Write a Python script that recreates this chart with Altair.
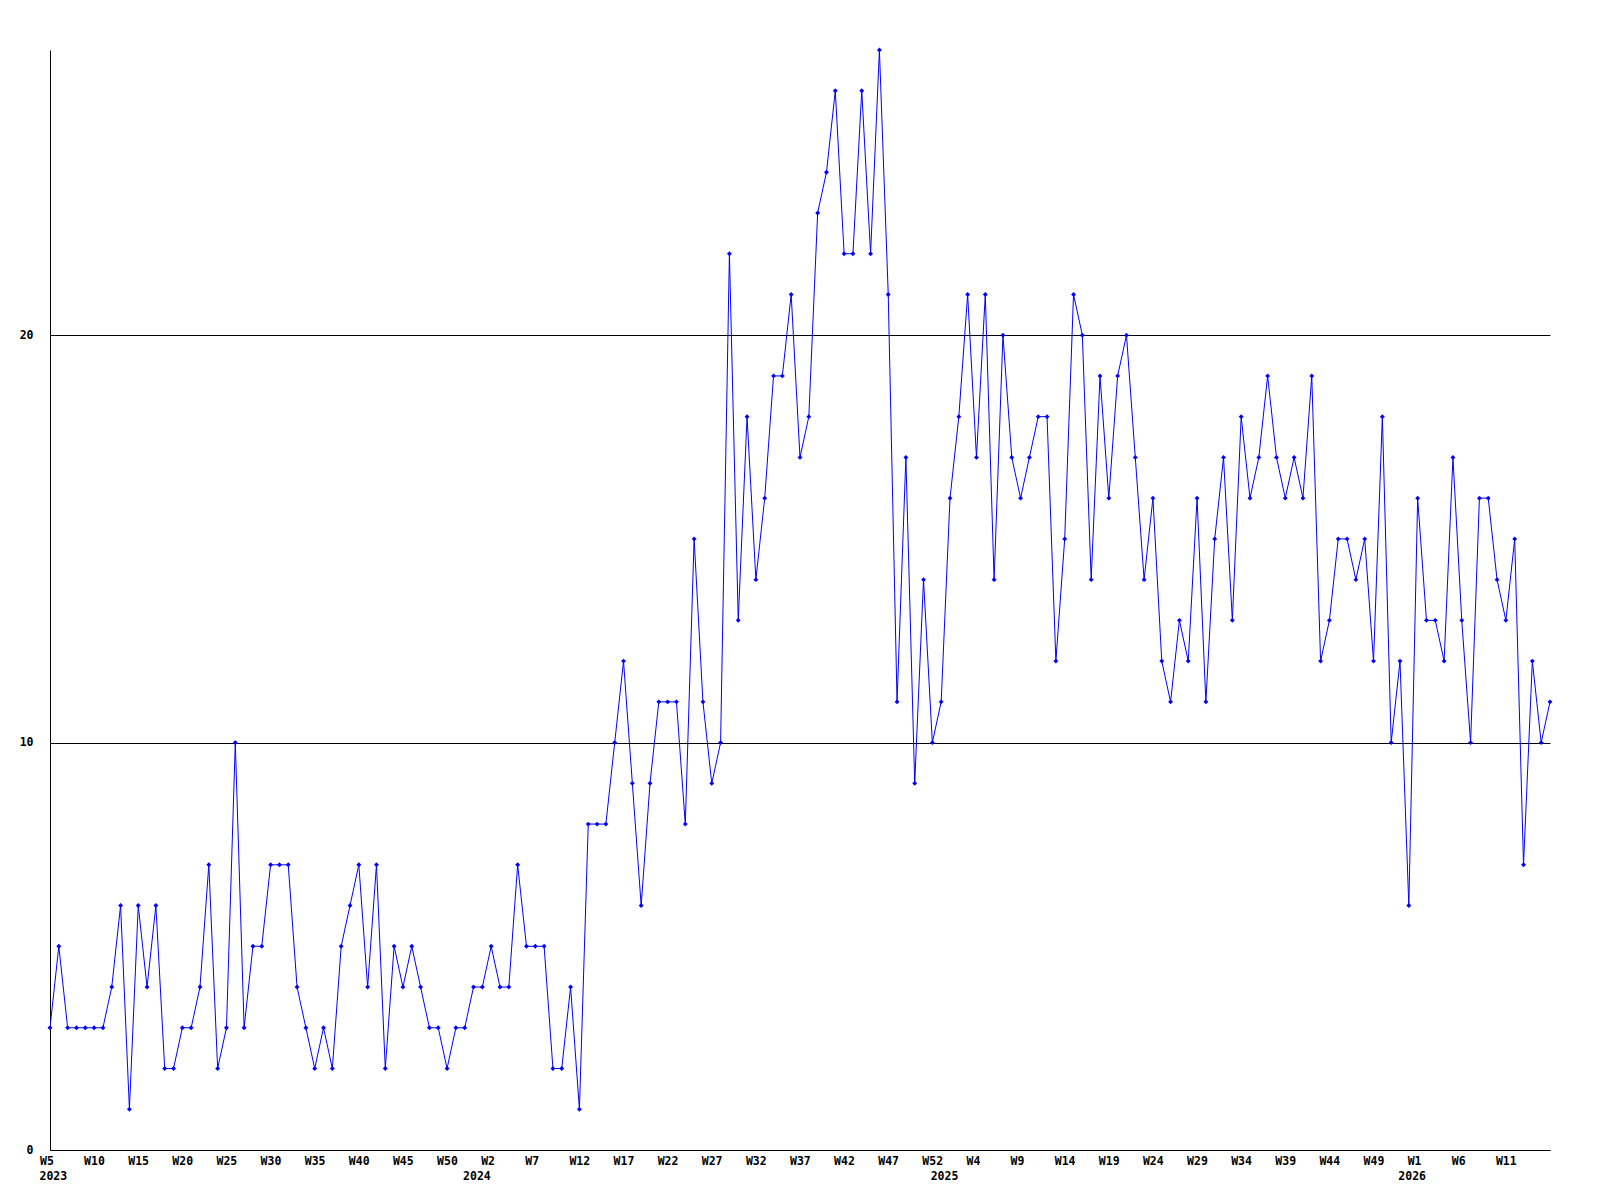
import altair as alt
import pandas as pd

# Weekly counts, starting 2023 W5 (one value per week)
counts = [
    3, 5, 3, 3, 3, 3, 3, 4, 6, 1, 6, 4, 6, 2, 2, 3, 3, 4, 7, 2,
    3, 10, 3, 5, 5, 7, 7, 7, 4, 3, 2, 3, 2, 5, 6, 7, 4, 7, 2, 5,
    4, 5, 4, 3, 3, 2, 3, 3, 4, 4, 5, 4, 4, 7, 5, 5, 5, 2, 2, 4,
    1, 8, 8, 8, 10, 12, 9, 6, 9, 11, 11, 11, 8, 15, 11, 9, 10, 22, 13, 18,
    14, 16, 19, 19, 21, 17, 18, 23, 24, 26, 22, 22, 26, 22, 27, 21, 11, 17, 9, 14,
    10, 11, 16, 18, 21, 17, 21, 14, 20, 17, 16, 17, 18, 18, 12, 15, 21, 20, 14, 19,
    16, 19, 20, 17, 14, 16, 12, 11, 13, 12, 16, 11, 15, 17, 13, 18, 16, 17, 19, 17,
    16, 17, 16, 19, 12, 13, 15, 15, 14, 15, 12, 18, 10, 12, 6, 16, 13, 13, 12, 17,
    13, 10, 16, 16, 14, 13, 15, 7, 12, 10, 11,
]

# Tick labels, one every five weeks
week_labels = [
    "W5", "W10", "W15", "W20", "W25", "W30", "W35", "W40", "W45", "W50",
    "W2", "W7", "W12", "W17", "W22", "W27", "W32", "W37", "W42", "W47",
    "W52", "W4", "W9", "W14", "W19", "W24", "W29", "W34", "W39", "W44",
    "W49", "W1", "W6", "W11",
]

# Year labels and the week index under which each one sits
years = ["2023", "2024", "2025", "2026"]
year_week_index = [0, 48, 101, 154]

y_ticks = [0, 10, 20]

df = pd.DataFrame({"idx": list(range(len(counts))), "count": counts})
ydf = pd.DataFrame({"idx": year_week_index, "year": years})

FONT = "DejaVu Sans Mono"
n_last = len(counts) - 1
tick_idx = list(range(0, 5 * len(week_labels), 5))
label_expr = "[" + ",".join("'%s'" % w for w in week_labels) + "][round(datum.value / 5)]"

x_enc = alt.X(
    "idx:Q",
    scale=alt.Scale(domain=[0, n_last], nice=False, zero=False),
    axis=alt.Axis(
        values=tick_idx,
        labelExpr=label_expr,
        labelAlign="left",
        labelOffset=-10.5,
        labelBaseline="top",
        labelPadding=5,
        labelFlush=False,
        labelOverlap=False,
        ticks=False,
        grid=False,
        domainColor="black",
        domainWidth=1,
        labelFont=FONT,
        labelFontSize=11.5,
        labelFontWeight="bold",
        labelColor="black",
        title=None,
    ),
)
y_enc = alt.Y(
    "count:Q",
    scale=alt.Scale(domain=[0, 27], nice=False),
    axis=alt.Axis(
        values=y_ticks,
        grid=True,
        gridColor="black",
        gridWidth=1,
        gridOpacity=1,
        ticks=False,
        labelPadding=17,
        domainColor="black",
        domainWidth=1,
        labelFont=FONT,
        labelFontSize=11.5,
        labelFontWeight="bold",
        labelColor="black",
        title=None,
    ),
)

base = alt.Chart(df)
line = base.mark_line(color="#0000ff", strokeWidth=1, clip=True).encode(x=x_enc, y=y_enc)
pts = base.mark_point(
    shape="diamond", filled=True, size=24, color="#0000ff", opacity=1
).encode(x="idx:Q", y="count:Q")
year_text = alt.Chart(ydf).mark_text(
    align="left", baseline="top", dx=-10.5, font=FONT, fontSize=11.5,
    fontWeight="bold", color="black",
).encode(x="idx:Q", y=alt.value(1121), text="year:N")

chart = (
    alt.layer(line, pts, year_text)
    .properties(
        width=1500,
        height=1100,
        autosize=alt.AutoSizeParams(type="none"),
        padding={"left": 42, "top": 42, "right": 30, "bottom": 45},
        background="white",
    )
    .configure_view(stroke=None)
)

chart.save("out.html", embed_options={"renderer": "svg", "actions": False})
